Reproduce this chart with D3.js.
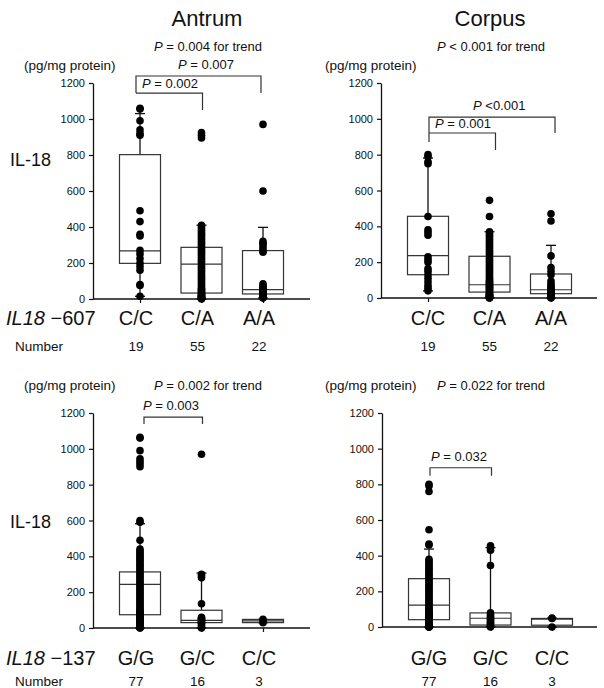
<!DOCTYPE html>
<html><head><meta charset="utf-8">
<script src="https://cdn.jsdelivr.net/npm/d3@7"></script>
<style>
html,body{margin:0;padding:0;background:#fff;}
svg{display:block;font-family:"Liberation Sans",Arial,sans-serif;}
</style></head>
<body>
<svg id="chart" width="604" height="688"></svg>
<script>
// ---------- data ----------
const siteTitles = ["Antrum", "Corpus"];
const genotypes607 = ["C/C", "C/A", "A/A"];
const genotypes137 = ["G/G", "G/C", "C/C"];
const numbers607 = [19, 55, 22];
const numbers137 = [77, 16, 3];
const yTicks = [0, 200, 400, 600, 800, 1000, 1200];

// box summaries per genotype: [lower whisker, Q1, median, Q3, upper whisker]
const antrum607Stats = [[15, 198, 267, 802, 1030], [0, 33, 194, 287, 410], [5, 28, 52, 269, 398]];
const corpus607Stats = [[40, 130, 236, 456, 781], [0, 33, 74, 233, 370], [0, 24, 46, 134, 294]];
const antrum137Stats = [[0, 74, 244, 313, 582], [0, 30, 43, 99, 307], [30, 30, 40, 48, 48]];
const corpus137Stats = [[0, 41, 123, 271, 437], [0, 11, 49, 79, 445], [0, 10, 44, 48, 50]];

// individual values (pg/mg protein)
const antrum607CC = [1060, 1055, 990, 940, 920, 910, 490, 430, 360, 350, 270, 250, 225, 200, 180, 160, 80, 75, 15];
const antrum607CA = [925, 910, 895, 410, 400, 390, 380, 370, 360, 350, 340, 330, 320, 310, 300, 290, 280, 270, 260, 250,
  240, 230, 220, 210, 200, 190, 180, 170, 160, 150, 140, 130, 120, 110, 100, 90, 80, 70, 60, 55, 50, 45, 40, 35, 30, 25, 20,
  18, 15, 12, 10, 8, 5, 3, 0];
const antrum607AA = [970, 600, 320, 310, 300, 285, 270, 260, 85, 75, 65, 58, 50, 45, 40, 35, 30, 25, 20, 15, 10, 5];
const corpus607CC = [800, 790, 760, 750, 455, 380, 365, 350, 230, 215, 200, 165, 150, 130, 110, 90, 70, 55, 40];
const corpus607CA = [545, 455, 370, 360, 350, 340, 330, 320, 310, 300, 290, 280, 270, 260, 250, 240, 230, 220, 210, 200,
  190, 180, 170, 160, 150, 140, 130, 120, 110, 100, 95, 90, 85, 80, 75, 70, 65, 60, 55, 50, 45, 40, 35, 30, 25, 20,
  18, 15, 12, 10, 8, 5, 3, 2, 0];
const corpus607AA = [470, 430, 235, 170, 150, 130, 95, 80, 70, 60, 50, 45, 40, 35, 30, 25, 20, 15, 10, 5, 3, 0];
const antrum137GG = [1065, 1060, 990, 945, 930, 915, 900, 600, 590, 490, 440, 430, 420, 410, 400, 390, 380, 370, 360, 350,
  340, 330, 320, 310, 300, 290, 280, 270, 260, 250, 240, 230, 220, 210, 200, 190, 180, 170, 160, 150, 140, 130, 120, 110, 100,
  95, 90, 85, 80, 75, 70, 65, 60, 55, 50, 45, 42, 40, 38, 35, 32, 30, 28, 25, 22, 20, 18, 15, 12, 10, 8, 6, 5, 4, 3, 2, 0];
const antrum137GC = [970, 300, 290, 280, 135, 60, 55, 50, 45, 40, 35, 30, 25, 15, 5, 0];
const antrum137CC = [48, 38, 30];
const corpus137GG = [800, 790, 760, 545, 465, 460, 380, 370, 360, 350, 340, 330, 320, 310, 300, 290, 280, 270, 260, 250,
  240, 230, 220, 210, 200, 190, 180, 170, 160, 150, 140, 130, 120, 110, 100, 95, 90, 85, 80, 75, 70, 65, 60, 55, 50,
  48, 45, 42, 40, 38, 35, 32, 30, 28, 25, 22, 20, 18, 16, 15, 14, 12, 11, 10, 9, 8, 7, 6, 5, 4, 3, 2, 2, 1, 1, 0, 0];
const corpus137GC = [455, 445, 430, 345, 80, 70, 60, 50, 45, 40, 30, 25, 20, 10, 5, 0];
const corpus137CC = [50, 48, 0];

// ---------- layout ----------
const svg = d3.select("#chart");
const INK = "#111";

const panels = [
  {x0: 93, x1: 310, yTop: 83, yBot: 299, cats: genotypes607, stats: antrum607Stats,
   dots: [antrum607CC, antrum607CA, antrum607AA], labShift: -4},
  {x0: 381, x1: 597, yTop: 83, yBot: 298, cats: genotypes607, stats: corpus607Stats,
   dots: [corpus607CC, corpus607CA, corpus607AA], labShift: 0},
  {x0: 93, x1: 310, yTop: 413, yBot: 628, cats: genotypes137, stats: antrum137Stats,
   dots: [antrum137GG, antrum137GC, antrum137CC], labShift: -4},
  {x0: 382, x1: 597, yTop: 413, yBot: 627, cats: genotypes137, stats: corpus137Stats,
   dots: [corpus137GG, corpus137GC, corpus137CC], labShift: 0}
];

const BOXW = 41;

function pText(g, x, y, rest, size, anchor) {
  const t = g.append("text").attr("x", x).attr("y", y).attr("font-size", size)
    .attr("fill", INK).attr("text-anchor", anchor || "start");
  t.append("tspan").attr("font-style", "italic").text("P");
  t.append("tspan").text(rest);
  return t;
}

panels.forEach(p => {
  p.y = d3.scaleLinear().domain([0, 1200]).range([p.yBot, p.yTop]);
  p.x = d3.scalePoint().domain(p.cats).range([p.x0 + 47, p.x0 + 170]);
  const g = svg.append("g");

  // y axis
  const ya = g.append("g").attr("transform", `translate(${p.x0},0)`)
    .call(d3.axisLeft(p.y).tickValues(yTicks).tickSize(4).tickSizeOuter(0).tickPadding(4).tickFormat(d3.format("d")));
  ya.select(".domain").attr("stroke", INK).attr("stroke-width", 1.3);
  ya.selectAll(".tick line").attr("stroke", INK).attr("stroke-width", 1.2);
  ya.selectAll(".tick text").attr("font-size", 11).attr("fill", INK)
    .attr("font-family", "'Liberation Sans', Arial, sans-serif");

  // x axis
  g.append("line").attr("x1", p.x0).attr("x2", p.x1).attr("y1", p.yBot).attr("y2", p.yBot)
    .attr("stroke", INK).attr("stroke-width", 1.3);
  const xa = g.append("g").attr("transform", `translate(0,${p.yBot})`)
    .call(d3.axisBottom(p.x).tickSize(4).tickFormat(""));
  xa.select(".domain").remove();
  xa.selectAll(".tick line").attr("stroke", INK).attr("stroke-width", 1.2);

  // boxes
  p.cats.forEach((c, i) => {
    const [lo, q1, med, q3, hi] = p.stats[i];
    const cx = p.x(c);
    const bg = g.append("g");
    // whiskers
    bg.append("line").attr("x1", cx).attr("x2", cx).attr("y1", p.y(q3)).attr("y2", p.y(hi))
      .attr("stroke", INK).attr("stroke-width", 1.3);
    bg.append("line").attr("x1", cx).attr("x2", cx).attr("y1", p.y(q1)).attr("y2", p.y(lo))
      .attr("stroke", INK).attr("stroke-width", 1.3);
    bg.append("line").attr("x1", cx - 5).attr("x2", cx + 5).attr("y1", p.y(hi)).attr("y2", p.y(hi))
      .attr("stroke", INK).attr("stroke-width", 1.3);
    bg.append("line").attr("x1", cx - 5).attr("x2", cx + 5).attr("y1", p.y(lo)).attr("y2", p.y(lo))
      .attr("stroke", INK).attr("stroke-width", 1.3);
    bg.append("rect").attr("x", cx - BOXW / 2).attr("width", BOXW)
      .attr("y", p.y(q3)).attr("height", Math.max(1, p.y(q1) - p.y(q3)))
      .attr("fill", "#fff").attr("stroke", "#333").attr("stroke-width", 1.2);
    bg.append("line").attr("x1", cx - BOXW / 2).attr("x2", cx + BOXW / 2)
      .attr("y1", p.y(med)).attr("y2", p.y(med)).attr("stroke", "#333").attr("stroke-width", 1.2);
    // dots
    bg.selectAll("circle").data(p.dots[i]).join("circle")
      .attr("cx", cx).attr("cy", d => p.y(d)).attr("r", 3.8).attr("fill", "#000");
  });
});

// ---------- titles & labels ----------
const T = svg.append("g");
T.append("text").attr("x", 207).attr("y", 26).attr("text-anchor", "middle").attr("font-size", 22).attr("fill", INK).text(siteTitles[0]);
T.append("text").attr("x", 490).attr("y", 26).attr("text-anchor", "middle").attr("font-size", 22).attr("fill", INK).text(siteTitles[1]);
pText(T, 208, 51, " = 0.004 for trend", 13, "middle");
pText(T, 491, 51, " < 0.001 for trend", 13, "middle");
pText(T, 208, 390, " = 0.002 for trend", 13, "middle");
pText(T, 491, 390, " = 0.022 for trend", 13, "middle");

[[24, 70], [325, 70], [24, 390], [325, 390]].forEach(([x, y]) => {
  T.append("text").attr("x", x).attr("y", y).attr("font-size", 13.5).attr("fill", INK).text("(pg/mg protein)");
});

[166, 528].forEach(y => {
  T.append("text").attr("x", 10).attr("y", y).attr("font-size", 18).attr("fill", INK).text("IL-18");
});

function geneLabel(y, pos) {
  const t = T.append("text").attr("x", 6).attr("y", y).attr("font-size", 20).attr("fill", INK);
  t.append("tspan").attr("font-style", "italic").text("IL18");
  t.append("tspan").text(" \u2212" + pos);
}
geneLabel(325, "607");
geneLabel(665, "137");

function catLabels(p, y, numbers, ny) {
  p.cats.forEach((c, i) => {
    T.append("text").attr("x", p.x(c) + p.labShift).attr("y", y).attr("text-anchor", "middle")
      .attr("font-size", 20).attr("fill", INK).text(c);
    T.append("text").attr("x", p.x(c) + p.labShift).attr("y", ny).attr("text-anchor", "middle")
      .attr("font-size", 13.5).attr("fill", INK).text(numbers[i]);
  });
}
catLabels(panels[0], 325, numbers607, 351);
catLabels(panels[1], 325, numbers607, 351);
catLabels(panels[2], 665, numbers137, 686);
catLabels(panels[3], 665, numbers137, 686);
T.append("text").attr("x", 15).attr("y", 351).attr("font-size", 13.5).attr("fill", INK).text("Number");
T.append("text").attr("x", 15).attr("y", 686).attr("font-size", 13.5).attr("fill", INK).text("Number");

// ---------- significance brackets ----------
function path(g, pts) {
  g.append("path").attr("d", d3.line()(pts)).attr("fill", "none").attr("stroke", "#333").attr("stroke-width", 1.2);
}
{
  const p = panels[0], B = svg.append("g");
  const xa = p.x("C/C") - 4, xb = p.x("C/A") + 1, xc = p.x("A/A") - 2;
  path(B, [[xa, p.y(1144)], [xa, p.y(1239)], [xc, p.y(1239)], [xc, p.y(1144)]]);
  path(B, [[xa, p.y(1144)], [xb, p.y(1144)], [xb, p.y(1050)]]);
  pText(B, 178, p.y(1239) - 7, " = 0.007", 13);
  pText(B, 142, p.y(1144) - 5, " = 0.002", 13);
}
{
  const p = panels[1], B = svg.append("g");
  const xa = p.x("C/C") + 1, xb = p.x("C/A") + 6, xc = p.x("A/A") + 4;
  path(B, [[xa, p.y(871)], [xa, p.y(1010)], [xc, p.y(1010)], [xc, p.y(921)]]);
  path(B, [[xa, p.y(921)], [xb, p.y(921)], [xb, p.y(826)]]);
  pText(B, 473, p.y(1010) - 7, " <0.001", 13);
  pText(B, 435, p.y(921) - 5, " = 0.001", 13);
}
{
  const p = panels[2], B = svg.append("g");
  const xa = p.x("G/G") + 4, xb = p.x("G/C") + 1;
  path(B, [[xa, p.y(1138)], [xa, p.y(1177)], [xb, p.y(1177)], [xb, p.y(1138)]]);
  pText(B, 143, p.y(1177) - 7, " = 0.003", 13);
}
{
  const p = panels[3], B = svg.append("g");
  const xa = p.x("G/G") + 1, xb = p.x("G/C") + 1;
  path(B, [[xa, p.y(848)], [xa, p.y(893)], [xb, p.y(893)], [xb, p.y(848)]]);
  pText(B, 431, p.y(893) - 7, " = 0.032", 13);
}
</script>
</body></html>
